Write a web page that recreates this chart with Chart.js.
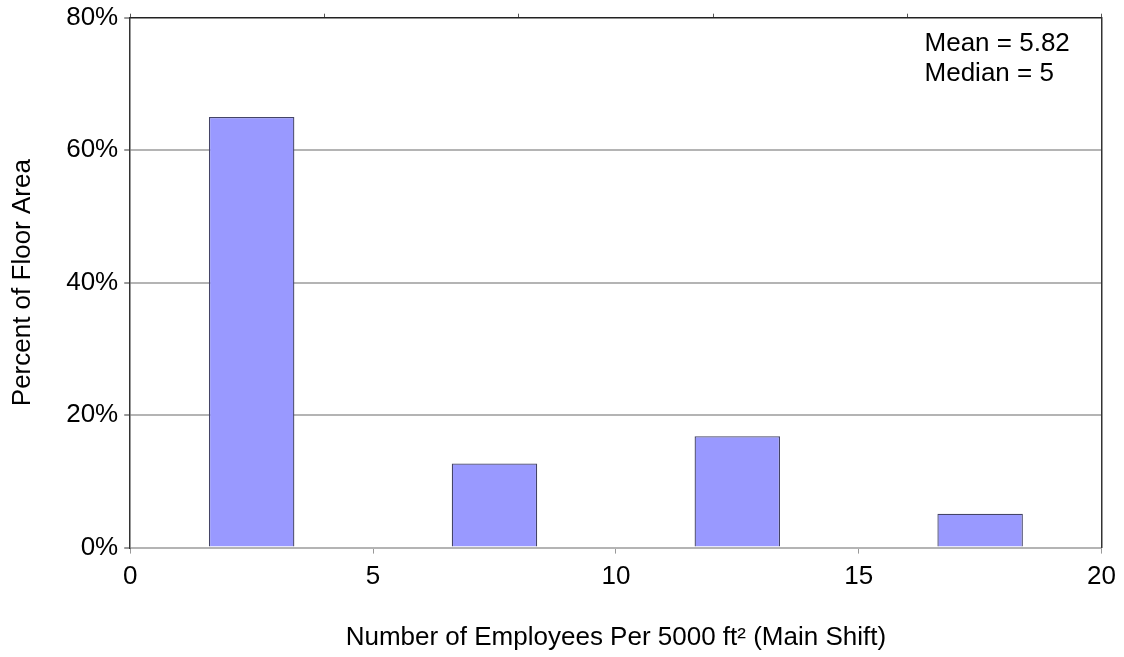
<!DOCTYPE html>
<html>
<head>
<meta charset="utf-8">
<script src="https://cdn.jsdelivr.net/npm/chart.js@4.4.0/dist/chart.umd.min.js"></script>
<style>
    body { margin: 0; background: #fff; }
    #wrap { position: relative; width: 1124px; height: 657px; }
</style>
</head>
<body>
<div id="wrap"><canvas id="histo"></canvas></div>
<script>
// bin centres (employees per 5000 ft2) and percent of floor area
var binCenters = [2.5, 7.5, 12.5, 17.5];
var pctFloorArea = [65, 12.7, 16.8, 5.1];
var xTicks = [0, 5, 10, 15, 20];
var yTicks = [0, 20, 40, 60, 80];
var statsText = ["Mean = 5.82", "Median = 5"];

var font = "'Liberation Sans', Arial, sans-serif";
Chart.defaults.font.family = font;
Chart.defaults.color = "#000";

var statsBox = {
    id: 'statsBox',
    afterDraw: function(chart) {
        var ctx = chart.ctx;
        var area = chart.chartArea;
        ctx.save();
        ctx.font = "26px " + font;
        ctx.fillStyle = "#000";
        ctx.textBaseline = "middle";
        ctx.textAlign = "left";
        for (var i = 0; i < statsText.length; i++) {
            ctx.fillText(statsText[i], area.right - 177, area.top + 26 + i * 30);
        }
        ctx.restore();
    }
};

var histo = document.getElementById("histo");
var myChart = new Chart(histo, {
    type: 'bar',
    data: {
        datasets: [{
            data: binCenters.map(function(x, i) { return {x: x, y: pctFloorArea[i]}; }),
            backgroundColor: "#9999FF",
            borderColor: "#444466",
            borderWidth: 1.3,
            categoryPercentage: 1,
            barPercentage: 0.352
        }]
    },
    options: {
        responsive: true,
        maintainAspectRatio: false,
        animation: false,
        layout: { padding: { left: 7, right: 22, top: 0, bottom: 4 } },
        plugins: {
            legend: { display: false },
            tooltip: { enabled: false }
        },
        scales: {
            x: {
                type: 'linear',
                offset: false,
                min: 0,
                max: 20,
                afterBuildTicks: function(s) { s.ticks = xTicks.map(function(v) { return {value: v}; }); },
                grid: { offset: false, drawOnChartArea: false, tickLength: 6, color: "#999" },
                border: { display: false },
                ticks: { font: { size: 26 }, padding: 8 },
                title: {
                    display: true,
                    text: "Number of Employees Per 5000 ft\u00B2 (Main Shift)",
                    font: { size: 26 },
                    padding: { top: 21, bottom: 0 }
                }
            },
            xTop: {
                type: 'linear',
                position: 'top',
                min: 0,
                max: 20,
                afterBuildTicks: function(s) { s.ticks = xTicks.map(function(v) { return {value: v}; }); },
                grid: { drawOnChartArea: false, tickLength: 4, color: "#555" },
                border: { display: true, color: "#222", width: 1.5 },
                ticks: { display: false }
            },
            y: {
                min: 0,
                max: 80,
                afterBuildTicks: function(s) { s.ticks = yTicks.map(function(v) { return {value: v}; }); },
                grid: {
                    color: function(c) { return c.tick && c.tick.value === 80 ? "rgba(0,0,0,0)" : "#b4b4b4"; },
                    lineWidth: 2,
                    tickLength: 6,
                    tickColor: "#999"
                },
                border: { display: true, color: "#333", width: 1.5 },
                ticks: {
                    font: { size: 26, lineHeight: 0.9 },
                    padding: 6,
                    callback: function(v) { return v + '%'; }
                },
                title: {
                    display: true,
                    text: "Percent of Floor Area",
                    font: { size: 26 },
                    padding: { top: 0, bottom: 22 }
                }
            },
            yRight: {
                position: 'right',
                min: 0,
                max: 80,
                grid: { drawOnChartArea: false, drawTicks: false },
                border: { display: true, color: "#333", width: 1.5 },
                ticks: { display: false }
            }
        }
    },
    plugins: [statsBox]
});
</script>
</body>
</html>
